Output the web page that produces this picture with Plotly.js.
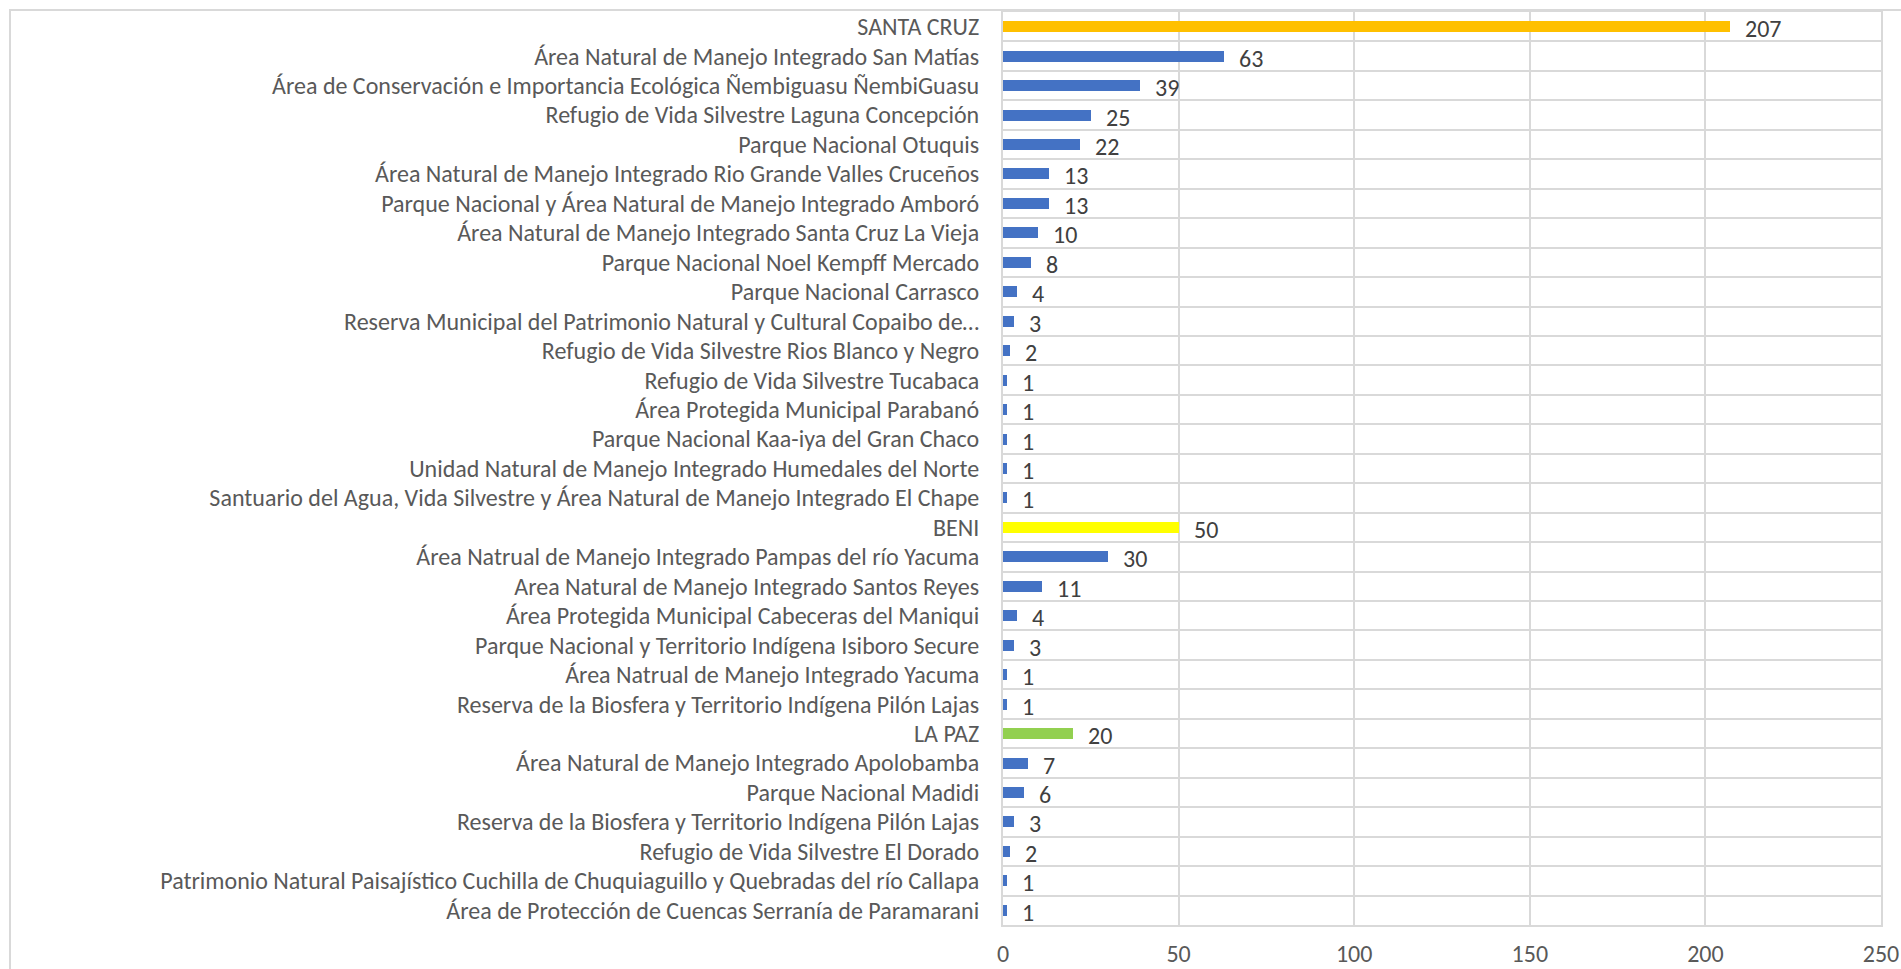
<!DOCTYPE html>
<html>
<head>
<meta charset="utf-8">
<script src="https://cdn.plot.ly/plotly-3.0.1.min.js"></script>
<style>
  html, body { margin: 0; padding: 0; background: #fff; }
  #wrap { position: relative; width: 1901px; height: 969px; overflow: hidden; }
  #chart { width: 1901px; height: 969px; }
  #frame { position: absolute; left: 9px; top: 9px; width: 1900px; height: 970px;
           border-left: 2px solid #d9d9d9; border-top: 2px solid #d9d9d9; pointer-events: none; }
</style>
</head>
<body>
<div id="wrap">
  <div id="chart"></div>
  <div id="frame"></div>
</div>
<script>
const categories = [
  "SANTA CRUZ",
  "Área Natural de Manejo Integrado San Matías",
  "Área de Conservación e Importancia Ecológica Ñembiguasu ÑembiGuasu",
  "Refugio de Vida Silvestre Laguna Concepción",
  "Parque Nacional Otuquis",
  "Área Natural de Manejo Integrado Rio Grande Valles Cruceños",
  "Parque Nacional y Área Natural de Manejo Integrado Amboró",
  "Área Natural de Manejo Integrado Santa Cruz La Vieja",
  "Parque Nacional Noel Kempff Mercado",
  "Parque Nacional Carrasco",
  "Reserva Municipal del Patrimonio Natural y Cultural Copaibo de…",
  "Refugio de Vida Silvestre Rios Blanco y Negro",
  "Refugio de Vida Silvestre Tucabaca",
  "Área Protegida Municipal Parabanó",
  "Parque Nacional Kaa-iya del Gran Chaco",
  "Unidad Natural de Manejo Integrado Humedales del Norte",
  "Santuario del Agua, Vida Silvestre y Área Natural de Manejo Integrado El Chape",
  "BENI",
  "Área Natrual de Manejo Integrado Pampas del río Yacuma",
  "Area Natural de Manejo Integrado Santos Reyes",
  "Área Protegida Municipal Cabeceras del Maniqui",
  "Parque Nacional y Territorio Indígena Isiboro Secure",
  "Área Natrual de Manejo Integrado Yacuma",
  "Reserva de la Biosfera y Territorio Indígena Pilón Lajas",
  "LA PAZ",
  "Área Natural de Manejo Integrado Apolobamba",
  "Parque Nacional Madidi",
  "Reserva de la Biosfera y Territorio Indígena Pilón Lajas",
  "Refugio de Vida Silvestre El Dorado",
  "Patrimonio Natural Paisajístico Cuchilla de Chuquiaguillo y Quebradas del río Callapa",
  "Área de Protección de Cuencas Serranía de Paramarani"
];
const values = [207, 63, 39, 25, 22, 13, 13, 10, 8, 4, 3, 2, 1, 1, 1, 1, 1,
                50, 30, 11, 4, 3, 1, 1,
                20, 7, 6, 3, 2, 1, 1];
const departments = { "SANTA CRUZ": "#FFC000", "BENI": "#FFFF00", "LA PAZ": "#92D050" };
const areaColor = "#4472C4";
const xTicks = [0, 50, 100, 150, 200, 250];

const positions = categories.map((_, i) => i);
const colors = categories.map(c => departments[c] || areaColor);

const FONT = "Carlito, Calibri, Lato, 'Liberation Sans', sans-serif";
const FS = 24;

const trace = {
  type: "bar",
  orientation: "h",
  x: values,
  y: positions,
  marker: { color: colors },
  width: 0.373,
  hoverinfo: "x+text",
  text: categories,
  textposition: "none"
};

const annotations = values.map((v, i) => ({
  x: v, y: positions[i], xref: "x", yref: "y",
  text: String(v), showarrow: false,
  xanchor: "left", yanchor: "middle",
  xshift: 13, yshift: -2,
  font: { family: FONT, size: FS, color: "#404040" }
}));

const layout = {
  width: 1901, height: 969,
  margin: { l: 1003, r: 20, t: 12, b: 44, pad: 0 },
  paper_bgcolor: "#ffffff",
  plot_bgcolor: "#ffffff",
  showlegend: false,
  bargap: 0,
  font: { family: FONT, size: FS, color: "#595959" },
  xaxis: {
    range: [0, 250],
    tickvals: xTicks,
    ticktext: xTicks.map(String),
    showgrid: true, gridcolor: "#d9d9d9", gridwidth: 2,
    zeroline: false,
    showline: true, linecolor: "#d9d9d9", linewidth: 2, mirror: true,
    ticks: "", ticklabelstandoff: 6,
    tickfont: { family: FONT, size: FS, color: "#595959" },
    fixedrange: true
  },
  yaxis: {
    range: [30.5, -0.5],
    tickvals: positions,
    ticktext: categories,
    showgrid: false,
    minor: { tick0: 0.5, dtick: 1, showgrid: true, gridcolor: "#d9d9d9", gridwidth: 2, ticks: "" },
    zeroline: false,
    showline: true, linecolor: "#d9d9d9", linewidth: 2, mirror: true,
    ticks: "", ticklabelstandoff: 17,
    tickfont: { family: FONT, size: FS, color: "#595959" },
    automargin: false,
    fixedrange: true
  },
  annotations: annotations
};

Plotly.newPlot("chart", [trace], layout, { displayModeBar: false, staticPlot: true });
</script>
</body>
</html>
